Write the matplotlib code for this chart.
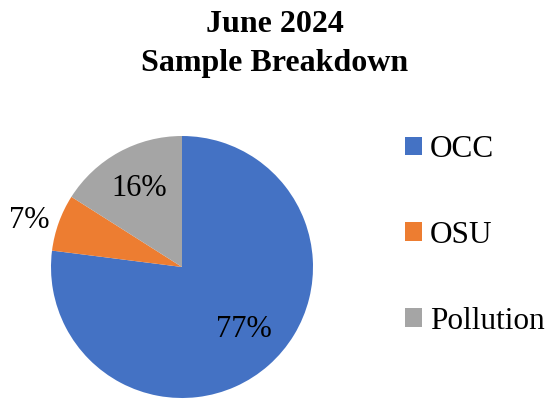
import matplotlib.pyplot as plt
import numpy as np

plt.rcParams['font.family'] = ['Liberation Serif', 'DejaVu Serif']

# data
categories = ["OCC", "OSU", "Pollution"]
shares = [77, 7, 16]
colors = ["#4472C4", "#ED7D31", "#A5A5A5"]
label_dist = [0.67, 1.22, 0.68]
label_shift = [3, 3, 0]  # degrees

fig = plt.figure(figsize=(5.49, 4.04), dpi=100)
W, H = 549, 404
cx, cy, r = 182, 267, 131
ax = fig.add_axes([(cx - r) / W, (H - cy - r) / H, 2 * r / W, 2 * r / H])

wedges, _ = ax.pie(shares, colors=colors, startangle=90, counterclock=False,
                   radius=1, wedgeprops=dict(linewidth=0))
ax.set_xlim(-1, 1)
ax.set_ylim(-1, 1)

# percentage labels
for w, v, d, s in zip(wedges, shares, label_dist, label_shift):
    ang = np.deg2rad((w.theta1 + w.theta2) / 2 + s)
    ax.text(d * np.cos(ang), d * np.sin(ang), f"{v}%", ha="center", va="center",
            fontsize=22, color="black")

fig.text(0.5, 1 - 44 / H, "June 2024\nSample Breakdown", ha="center", va="center",
         fontsize=23, fontweight="bold", linespacing=1.45)

fig.legend(wedges, categories, loc="upper left", bbox_to_anchor=(405 / W, 1 - 135 / H),
           frameon=False, fontsize=22.5, labelspacing=1.82, handlelength=0.55,
           handleheight=0.55, handletextpad=0.25, borderpad=0, borderaxespad=0)

fig.savefig("out.png", dpi=100)
